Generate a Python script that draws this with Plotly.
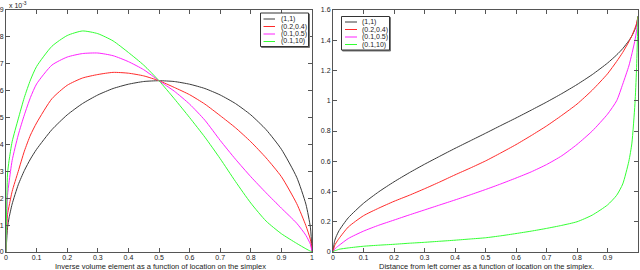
import plotly.graph_objects as go

# ---------------- data ----------------
SERIES_NAMES = ["(1,1)", "(0.2,0.4)", "(0.1,0.5)", "(0.1,10)"]
SERIES_COLORS = ["#3a3a3a", "#ff2a2a", "#ff22ff", "#33ff33"]

# Left panel: inverse volume element (values in units of 1e-3)
x_left = [0, 0.005, 0.01, 0.02, 0.04, 0.06, 0.08, 0.1, 0.15, 0.2, 0.25, 0.3, 0.35,
          0.4, 0.45, 0.5, 0.55, 0.6, 0.65, 0.7, 0.75, 0.8, 0.85, 0.9, 0.95, 0.98,
          0.995, 1]
inv_vol_11 = [0, 0.90, 1.27, 1.78, 2.50, 3.03, 3.46, 3.82, 4.55, 5.10, 5.52, 5.84, 6.08,
              6.24, 6.34, 6.37, 6.34, 6.24, 6.08, 5.84, 5.52, 5.10, 4.55, 3.82, 2.78, 1.78,
              0.90, 0]
inv_vol_02_04 = [0, 1.4, 1.7, 2.25, 3.0, 3.75, 4.35, 4.8, 5.7, 6.2, 6.47, 6.6, 6.68,
                 6.65, 6.55, 6.37, 6.12, 5.85, 5.5, 5.07, 4.62, 4.1, 3.5, 2.8, 1.8, 0.98,
                 0.45, 0]
inv_vol_01_05 = [0, 2.1, 2.6, 3.4, 4.35, 5.1, 5.75, 6.25, 6.95, 7.25, 7.38, 7.40, 7.3,
                 7.08, 6.78, 6.37, 5.98, 5.5, 4.9, 4.15, 3.45, 2.8, 2.2, 1.63, 1.07, 0.62,
                 0.28, 0]
inv_vol_01_10 = [0, 2.9, 3.4, 4.1, 4.95, 5.75, 6.4, 6.9, 7.65, 8.05, 8.22, 8.12, 7.85,
                 7.42, 6.95, 6.37, 5.7, 5.0, 4.27, 3.47, 2.62, 1.82, 1.15, 0.68, 0.32, 0.12,
                 0.03, 0]

# Right panel: distance from left corner
x_right = [0, 0.005, 0.01, 0.02, 0.05, 0.1, 0.15, 0.2, 0.25, 0.3, 0.35, 0.4, 0.45, 0.5,
           0.55, 0.6, 0.65, 0.7, 0.75, 0.8, 0.85, 0.9, 0.93, 0.95, 0.97, 0.98, 0.99,
           0.995, 1]
dist_11 = [0, 0.071, 0.100, 0.142, 0.226, 0.322, 0.398, 0.464, 0.524, 0.580, 0.633, 0.685,
           0.735, 0.785, 0.836, 0.886, 0.938, 0.991, 1.047, 1.107, 1.173, 1.249, 1.303,
           1.345, 1.397, 1.429, 1.471, 1.500, 1.560]
dist_02_04 = [0, 0.04, 0.06, 0.09, 0.165, 0.24, 0.29, 0.335, 0.375, 0.418, 0.463, 0.51,
              0.555, 0.602, 0.655, 0.71, 0.77, 0.833, 0.903, 0.978, 1.07, 1.178, 1.26,
              1.32, 1.39, 1.43, 1.48, 1.51, 1.556]
dist_01_05 = [0, 0.018, 0.028, 0.044, 0.089, 0.138, 0.177, 0.211, 0.245, 0.278, 0.311,
              0.344, 0.378, 0.413, 0.45, 0.489, 0.53, 0.578, 0.636, 0.711, 0.8, 0.911, 1.0,
              1.11, 1.23, 1.31, 1.40, 1.46, 1.544]
dist_01_10 = [0, 0.008, 0.011, 0.018, 0.027, 0.038, 0.045, 0.051, 0.058, 0.064, 0.071,
              0.078, 0.086, 0.094, 0.107, 0.122, 0.138, 0.156, 0.176, 0.2, 0.244, 0.311,
              0.375, 0.45, 0.6, 0.72, 0.98, 1.2, 1.556]

x_ticks = [0, 0.1, 0.2, 0.3, 0.4, 0.5, 0.6, 0.7, 0.8, 0.9, 1]
x_ticktext = ["0", "0.1", "0.2", "0.3", "0.4", "0.5", "0.6", "0.7", "0.8", "0.9", "1"]
yl_ticks = [0, 1, 2, 3, 4, 5, 6, 7, 8, 9]
yl_ticktext = ["0", "1", "2", "3", "4", "5", "6", "7", "8", "9"]
yr_ticks = [0, 0.2, 0.4, 0.6, 0.8, 1.0, 1.2, 1.4, 1.6]
yr_ticktext = ["0", "0.2", "0.4", "0.6", "0.8", "1", "1.2", "1.4", "1.6"]

left_title = "Inverse volume element as a function of location on the simplex"
right_title = "Distance from left corner as a function of location on the simplex."
exponent_label = "x 10<sup>-3</sup>"

# ---------------- figure ----------------
W, H = 640, 270
ML, MR, MT, MB = 6, 2, 10, 18
PW, PH = W - ML - MR, H - MT - MB


def px(xp):
    return (xp - ML) / PW


def py(yp):
    return (H - MB - yp) / PH


FONT = "Liberation Sans, Arial, Helvetica, sans-serif"
TXT = "#222222"
AX = "#555555"

fig = go.Figure()
left_series = [inv_vol_11, inv_vol_02_04, inv_vol_01_05, inv_vol_01_10]
right_series = [dist_11, dist_02_04, dist_01_05, dist_01_10]
for name, col, ys in zip(SERIES_NAMES, SERIES_COLORS, left_series):
    fig.add_trace(go.Scatter(x=x_left, y=ys, mode="lines", name=name,
                             line=dict(color=col, width=1, shape="spline", smoothing=0.6),
                             xaxis="x", yaxis="y", showlegend=False))
for name, col, ys in zip(SERIES_NAMES, SERIES_COLORS, right_series):
    fig.add_trace(go.Scatter(x=x_right, y=ys, mode="lines", name=name,
                             line=dict(color=col, width=1, shape="spline", smoothing=0.6),
                             xaxis="x2", yaxis="y2", showlegend=False))

axis_common = dict(showgrid=False, zeroline=False, showline=True, linecolor=AX,
                   linewidth=1, mirror="ticks", ticks="inside", ticklen=4,
                   tickcolor=AX, tickwidth=1,
                   tickfont=dict(family=FONT, size=7, color=TXT))

left_dom = [0, px(312)]
right_dom = [px(333), 1]

fig.update_layout(
    width=W, height=H,
    margin=dict(l=ML, r=MR, t=MT, b=MB, autoexpand=False),
    paper_bgcolor="white", plot_bgcolor="white",
    showlegend=False,
    xaxis=dict(domain=left_dom, range=[0, 1], tickvals=x_ticks, ticktext=x_ticktext,
               anchor="y", automargin=False, ticklabelstandoff=-1, **axis_common),
    yaxis=dict(domain=[0, 1], range=[0, 9], tickvals=yl_ticks, ticktext=yl_ticktext,
               anchor="x", automargin=False, **axis_common),
    xaxis2=dict(domain=right_dom, range=[0, 1], tickvals=x_ticks, ticktext=x_ticktext,
                anchor="y2", automargin=False, ticklabelstandoff=-1, **axis_common),
    yaxis2=dict(domain=[0, 1], range=[0, 1.6], tickvals=yr_ticks, ticktext=yr_ticktext,
                anchor="x2", automargin=False, **axis_common),
)

annotations = [
    dict(text=left_title, x=px(160), y=py(266), xref="paper", yref="paper",
         showarrow=False, xanchor="center", yanchor="middle", borderpad=0,
         font=dict(family=FONT, size=7.5, color=TXT)),
    dict(text=right_title, x=px(487), y=py(266), xref="paper", yref="paper",
         showarrow=False, xanchor="center", yanchor="middle", borderpad=0,
         font=dict(family=FONT, size=7.5, color=TXT)),
    dict(text=exponent_label, x=px(7), y=py(5), xref="paper", yref="paper",
         showarrow=False, xanchor="left", yanchor="middle",
         font=dict(family=FONT, size=7, color=TXT)),
]

shapes = []


def add_legend(x0, y0, x1, y1, rows, lx0, lx1, tx):
    shapes.append(dict(type="rect", xref="paper", yref="paper",
                       x0=px(x0 + 1), x1=px(x1 + 1), y0=py(y0 + 1), y1=py(y1 + 1),
                       line=dict(color="#777777", width=1), fillcolor="#777777",
                       layer="above"))
    shapes.append(dict(type="rect", xref="paper", yref="paper",
                       x0=px(x0), x1=px(x1), y0=py(y0), y1=py(y1),
                       line=dict(color="#333333", width=1), fillcolor="white",
                       layer="above"))
    for name, col, ry in zip(SERIES_NAMES, SERIES_COLORS, rows):
        shapes.append(dict(type="line", xref="paper", yref="paper",
                           x0=px(lx0), x1=px(lx1), y0=py(ry), y1=py(ry),
                           line=dict(color=col, width=1), layer="above"))
        annotations.append(dict(text=name, x=px(tx), y=py(ry), xref="paper",
                                yref="paper", showarrow=False, xanchor="left",
                                yanchor="middle",
                                font=dict(family=FONT, size=7, color=TXT)))


add_legend(260.5, 13, 308.5, 46.5, [19, 26.5, 34, 41.5], 263.5, 275, 278.5)
add_legend(341.5, 16.5, 389.5, 50, [22, 29.5, 37, 44.5], 345, 357, 360)

fig.update_layout(annotations=annotations, shapes=shapes)
fig.write_html("out.html",
               config={"displayModeBar": False, "staticPlot": True},
               post_script="document.body.style.margin='0';"
                           "document.body.style.padding='0';"
                           "document.body.style.overflow='hidden';")
